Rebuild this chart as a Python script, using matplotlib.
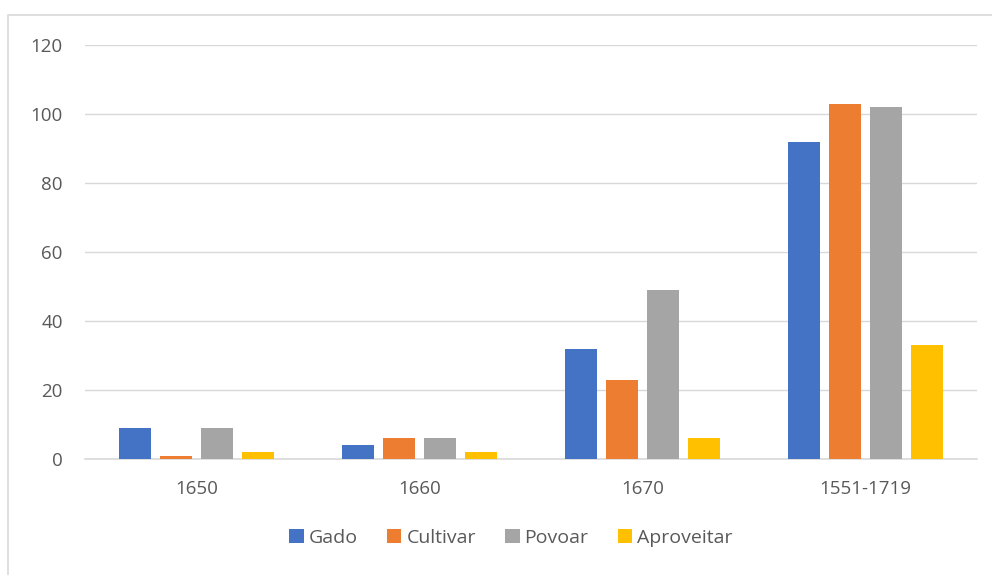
import matplotlib.pyplot as plt
import numpy as np
from matplotlib.patches import Rectangle

categories = ['1650', '1660', '1670', '1551-1719']
gado = [9, 4, 32, 92]
cultivar = [1, 6, 23, 103]
povoar = [9, 6, 49, 102]
aproveitar = [2, 2, 6, 33]

series = [('Gado', gado, '#4472C4'),
          ('Cultivar', cultivar, '#ED7D31'),
          ('Povoar', povoar, '#A5A5A5'),
          ('Aproveitar', aproveitar, '#FFC000')]

plt.rcParams['font.family'] = ['Open Sans', 'DejaVu Sans']

fig = plt.figure(figsize=(9.92, 5.75), dpi=100)
ax = fig.add_axes([85 / 992, 1 - 459 / 575, 892 / 992, 414 / 575])

# moldura do gráfico
fig.patches.append(Rectangle((8 / 992, -0.01), 1.0, 1 - 15 / 575 + 0.01,
                             transform=fig.transFigure, fill=False,
                             edgecolor='#D9D9D9', linewidth=1.2))

x = np.arange(len(categories))
width = 0.1435
step = 0.184
for i, (name, vals, color) in enumerate(series):
    ax.bar(x + (i - 1.5) * step, vals, width, color=color, label=name, zorder=3)

ax.set_xlim(-0.5, len(categories) - 0.5)
ax.set_ylim(0, 120)
ax.set_yticks(range(0, 121, 20))
ax.set_xticks(x)
ax.set_xticklabels(categories)
ax.grid(axis='y', color='#D9D9D9', linewidth=1, zorder=0)
for s in ['top', 'right', 'left']:
    ax.spines[s].set_visible(False)
ax.spines['bottom'].set_color('#D9D9D9')
ax.spines['bottom'].set_linewidth(1.2)
ax.tick_params(axis='both', length=0, colors='#595959', labelsize=13.5)
ax.tick_params(axis='y', pad=16)
ax.tick_params(axis='x', pad=15)

fig.legend(loc='center', bbox_to_anchor=(0.515, 1 - 538 / 575), ncol=4,
           frameon=False, fontsize=14, labelcolor='#595959',
           handlelength=0.75, handleheight=0.75, handletextpad=0.25,
           columnspacing=1.5)

fig.savefig('out.png', dpi=100)
